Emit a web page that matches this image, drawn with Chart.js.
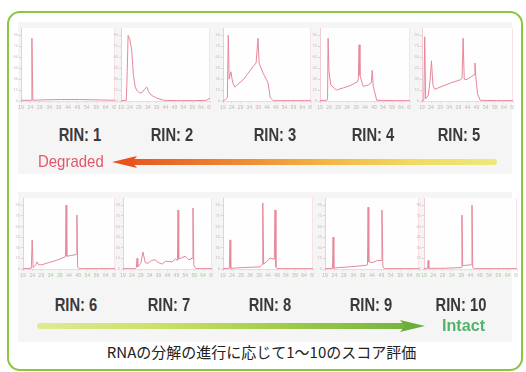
<!DOCTYPE html>
<html lang="ja">
<head>
<meta charset="utf-8">
<title>RIN</title>
<script src="https://cdn.jsdelivr.net/npm/chart.js@4/dist/chart.umd.min.js"></script>
<style>
  html, body { margin: 0; padding: 0; background: #fff; }
  body { width: 526px; height: 372px; position: relative; overflow: hidden; font-family: "Liberation Sans", Arial, sans-serif; }
  .frame { position: absolute; left: 7px; top: 11px; width: 512px; height: 356px; border: 2px solid #8cc63e; border-radius: 13px; }
  .band { position: absolute; background: #f5f5f5; }
  .panel { position: absolute; }
  .rin { position: absolute; width: 90px; margin-left: -45px; text-align: center;
         font-family: "Liberation Sans", Arial, sans-serif;
         font-weight: bold; font-size: 18px; line-height: 18px; color: #3a3a3a;
         transform: scaleX(0.82); transform-origin: 50% 50%; }
  .shaft { position: absolute; height: 6px; }
  .head { position: absolute; width: 25px; height: 12px; }
  .tag { position: absolute; font-family: "Liberation Sans", Arial, sans-serif; line-height: 18px; transform-origin: 0 50%; white-space: nowrap; }
  .caption { position: absolute; left: 0; width: 523px; top: 343px; text-align: center;
             font-family: "Noto Sans CJK JP", "Noto Sans", sans-serif; font-size: 15px; line-height: 18px; color: #222; }
</style>
</head>
<body>
<div class="frame"></div>
<div class="band" style="left:18px;top:22px;width:494px;height:152px;"></div>
<div class="band" style="left:18px;top:192px;width:494px;height:150px;"></div>

<div id="panels"></div>
<div id="labels"></div>

<!-- degradation arrow, pointing left -->
<div class="shaft" style="left:130px;top:159px;width:367px;background:linear-gradient(to right,#e8561e 0%,#ee8a32 30%,#f2b844 55%,#f0dc62 78%,#eee87c 100%);border-radius:0 3px 3px 0;"></div>
<div class="head" style="left:112px;top:156px;background:#e8521c;clip-path:polygon(0 50%,100% 0,80% 50%,100% 100%);"></div>
<div class="tag" style="left:38px;top:153px;font-size:17px;color:#e0566a;transform:scaleX(0.88);">Degraded</div>

<!-- integrity arrow, pointing right -->
<div class="shaft" style="left:37px;top:323px;width:370px;background:linear-gradient(to right,#e2ea92 0%,#c8e066 35%,#a2cc4c 65%,#76b43e 100%);border-radius:3px 0 0 3px;"></div>
<div class="head" style="left:400px;top:320px;background:#6cae3c;clip-path:polygon(0 0,100% 50%,0 100%,20% 50%);"></div>
<div class="tag" style="left:442px;top:317px;font-size:17px;font-weight:bold;color:#52b468;transform:scaleX(0.95);">Intact</div>

<div class="caption">RNAの分解の進行に応じて1～10のスコア評価</div>

<script>
// Migration time (s) tick labels and fluorescence tick labels shared by every panel
const timeTicks = [19, 24, 29, 34, 39, 44, 49, 54, 59, 64, 69];
const fuTicks = [0, 15, 30, 45, 60, 75, 90];

// RIN scores shown under each electropherogram
const rinScores = [1, 2, 3, 4, 5, 6, 7, 8, 9, 10];

// Electropherogram traces: [time (s), fluorescence (FU)]
const rin1 = [[19,1],[24.4,1],[24.8,86],[25.3,1],[30,1.5],[40,2],[50,2],[60,1.5],[69,1]];
const rin2 = [[19,0.5],[22,1],[22.5,40],[23,90],[24,84],[25,70],[26,35],[27,19],[28,14],[29.5,11],[31,12],[32.5,17],[33.5,19],[34.5,13],[36,8],[39,4],[43,1],[50,0.5],[60,0.5],[67,1],[69,4]];
const rin3 = [[19,0.5],[20.5,2],[21.5,5],[22,90],[22.5,30],[23.5,40],[24.5,25],[25.8,19],[28,24],[30.4,29],[33,37],[36,47],[37.8,52],[38.9,86],[39.5,52],[41.8,38],[43.5,30],[44.6,25],[45.8,5],[47.5,0.5],[58,0.5],[69,0.5]];
const rin4 = [[19,0.5],[22.8,1],[23.2,3],[23.5,86],[24,40],[25,22],[28,15],[32,18],[35.7,21],[39.6,26],[40.3,30],[40.7,77],[41.2,35],[43,20],[46,22],[47.5,25],[48,42],[48.6,20],[50.5,1],[60,0.5],[69,0.5]];
const rin5 = [[19,0.5],[20,1],[20.5,88],[21,3],[22.5,8],[23.5,30],[24.2,55],[25,22],[26,16],[30,20],[35,25],[40,29],[41,31],[41.6,86],[42.2,30],[43.2,29],[46,33],[47.6,36],[48.1,52],[48.7,30],[49.5,10],[51,1],[60,0.5],[69,0.5]];
const rin6 = [[19,0.5],[23.5,1],[24,41],[24.5,2],[26,6],[26.6,10],[27.5,6],[29.3,6],[33,9],[37,12],[41.8,17],[42.1,18],[42.4,90],[42.8,18],[45,19],[47.3,20],[48,21],[48.3,76],[48.7,3],[49.5,0.5],[60,0.5],[69,0.5]];
const rin7 = [[19,0.5],[26,0.5],[26.5,2],[26.9,15],[27.3,3],[29,8],[30.2,24],[31.5,9],[33,8],[35,12],[37,13],[39,9],[41,7],[43,11],[46.5,10],[48.5,14],[49.6,12],[49.9,83],[50.3,14],[52,16],[54,18],[56,13],[57.8,15],[58.3,86],[58.8,5],[60,0.5],[69,0.5]];
const rin8 = [[19,0.5],[22.5,1],[22.9,41],[23.3,1],[30,2],[39.6,3],[40.7,6],[41,6],[41.2,93],[41.6,7],[43,10],[45.1,15],[47.5,14],[47.9,83],[48.4,3],[49,0.5],[60,0.5],[69,0.5]];
const rin9 = [[19,0.5],[23,1],[23.3,45],[23.7,1],[26,2],[32,3],[40.3,5],[41.6,6],[41.9,87],[42.3,10],[44,9],[47,12],[49,12],[49.3,83],[49.8,3],[50.5,0.5],[60,0.5],[69,0.5]];
const rin10 = [[19,0.5],[21,1],[21.2,12],[21.6,1],[30,1],[38.4,2],[39,2],[39.4,76],[39.8,5],[41,5],[44,6],[44.5,6],[44.8,90],[45.2,2],[46,0.5],[60,0.5],[69,0.5]];

const traces = [rin1, rin2, rin3, rin4, rin5, rin6, rin7, rin8, rin9, rin10];

// Panel placement: y-axis position, plot width, row
const axisLeft = [21, 121, 223, 320, 422, 23, 123, 223, 325, 424];
const plotWidth = [94, 89, 88, 90, 91, 92, 89, 90, 94, 93];
const rowTop = [26, 196];
const rowPlotHeight = [73, 71];
const labelCenterX = [80, 172, 275, 373, 459, 76, 169, 270, 371, 461];
const labelTop = [126, 296];
const timeTickColor = ['#c4b6ba', '#acc6a6'];

const Y_AXIS_W = 9, X_AXIS_H = 12, PAD_TOP = 2, PAD_RIGHT = 1;

const plotBackground = {
  id: 'plotBackground',
  beforeDraw(chart) {
    const { ctx, chartArea: a } = chart;
    ctx.save();
    ctx.fillStyle = '#fffefe';
    ctx.fillRect(a.left, a.top, a.right - a.left, a.bottom - a.top);
    ctx.strokeStyle = '#f8e2e6';
    ctx.lineWidth = 1;
    ctx.beginPath();
    ctx.moveTo(Math.round(a.right) - 0.5, a.top);
    ctx.lineTo(Math.round(a.right) - 0.5, a.bottom);
    ctx.stroke();
    ctx.restore();
  }
};

const panelsEl = document.getElementById('panels');
const labelsEl = document.getElementById('labels');

traces.forEach((trace, i) => {
  const row = i < 5 ? 0 : 1;
  const canvas = document.createElement('canvas');
  const w = Y_AXIS_W + plotWidth[i] + PAD_RIGHT;
  const h = PAD_TOP + rowPlotHeight[row] + X_AXIS_H;
  canvas.width = w;
  canvas.height = h;
  canvas.className = 'panel';
  canvas.style.left = (axisLeft[i] - Y_AXIS_W) + 'px';
  canvas.style.top = rowTop[row] + 'px';
  canvas.style.width = w + 'px';
  canvas.style.height = h + 'px';
  panelsEl.appendChild(canvas);

  new Chart(canvas, {
    type: 'line',
    data: {
      datasets: [{
        data: trace.map(([x, y]) => ({ x, y })),
        borderColor: '#e6889a',
        borderWidth: 1,
        pointRadius: 0,
        tension: 0,
        fill: false
      }]
    },
    options: {
      responsive: false,
      animation: false,
      events: [],
      layout: { padding: { top: PAD_TOP, right: PAD_RIGHT, left: 0, bottom: 0 } },
      plugins: { legend: { display: false }, tooltip: { enabled: false } },
      scales: {
        x: {
          type: 'linear',
          min: timeTicks[0],
          max: timeTicks[timeTicks.length - 1],
          afterBuildTicks: s => { s.ticks = timeTicks.map(v => ({ value: v })); },
          afterFit: s => { s.height = X_AXIS_H; s.paddingLeft = 0; s.paddingRight = 0; },
          grid: { display: true, drawOnChartArea: false, drawTicks: true, tickLength: 2, color: '#e6d8db' },
          border: { color: '#ecdadd' },
          ticks: { font: { size: 5 }, color: timeTickColor[row], padding: 2, maxRotation: 0, autoSkip: false }
        },
        y: {
          min: 0,
          max: 100,
          afterBuildTicks: s => { s.ticks = fuTicks.map(v => ({ value: v })); },
          afterFit: s => { s.width = Y_AXIS_W; s.paddingTop = 0; s.paddingBottom = 0; },
          grid: { display: true, drawOnChartArea: false, drawTicks: true, tickLength: 2, color: '#dfcfd2' },
          border: { color: '#f2ccd3' },
          ticks: { font: { size: 4 }, color: '#c8babd', padding: 1 }
        }
      }
    },
    plugins: [plotBackground]
  });

  const lbl = document.createElement('div');
  lbl.className = 'rin';
  lbl.style.left = labelCenterX[i] + 'px';
  lbl.style.top = labelTop[row] + 'px';
  lbl.textContent = 'RIN: ' + rinScores[i];
  labelsEl.appendChild(lbl);
});
</script>
</body>
</html>
